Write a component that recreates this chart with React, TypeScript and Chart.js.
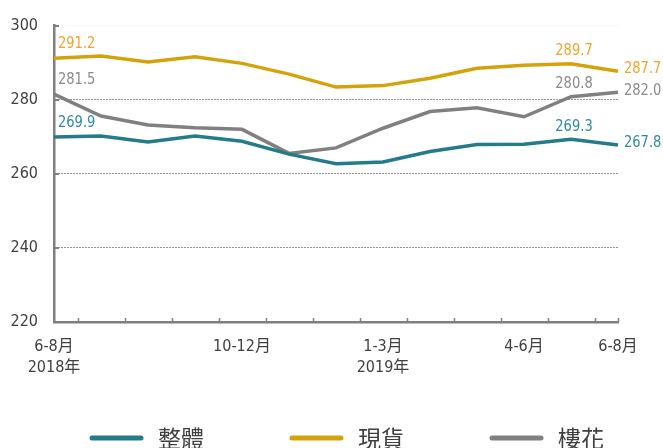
import React, { useEffect, useRef } from 'react';
import { Chart, registerables } from 'chart.js';

Chart.register(...registerables);

const categories = ['6-8月', '7-9月', '8-10月', '9-11月', '10-12月', '11-1月', '12-2月', '1-3月', '2-4月', '3-5月', '4-6月', '5-7月', '6-8月'];
const tickLabels: (string | string[])[] = [['6-8月', '2018年'], '', '', '', '10-12月', '', '', ['1-3月', '2019年'], '', '', '4-6月', '', '6-8月'];
const yTicks = [220, 240, 260, 280, 300];

const seriesNames = ['整體', '現貨', '樓花'];
const overall = [269.9, 270.2, 268.6, 270.2, 268.8, 265.3, 262.7, 263.2, 266.0, 267.9, 268.0, 269.3, 267.8];
const spot = [291.2, 291.8, 290.2, 291.6, 289.8, 286.9, 283.4, 283.8, 285.8, 288.5, 289.3, 289.7, 287.7];
const presale = [281.5, 275.6, 273.2, 272.4, 272.0, 265.5, 267.0, 272.3, 276.8, 277.8, 275.4, 280.8, 282.0];
const labelledIndices = [0, 11, 12];

const lineColors = ['#237b8c', '#d4a20c', '#808080'];
const labelColors = ['#2e8a9c', '#f2a22c', '#8a8a8a'];

const NUM_FONT = "'DejaVu Sans Condensed', 'Noto Sans CJK TC', sans-serif";
const CJK_FONT = "'Noto Sans CJK TC', 'Noto Sans', sans-serif";

const decor = {
  id: 'decor',
  afterDraw(chart: any) {
    const { ctx, chartArea } = chart;
    const x = chart.scales.x;
    const y = chart.scales.y;
    const n = categories.length;
    ctx.save();
    // x-axis tick marks (between categories) pointing up
    ctx.strokeStyle = '#7f7f7f';
    ctx.lineWidth = 1.5;
    const xs: number[] = [];
    for (let i = 0; i < n - 1; i++) xs.push((x.getPixelForValue(i) + x.getPixelForValue(i + 1)) / 2);
    xs.push(x.getPixelForValue(n - 1));
    xs.forEach((m) => {
      const px = Math.round(m) + 0.5;
      ctx.beginPath();
      ctx.moveTo(px, chartArea.bottom);
      ctx.lineTo(px, chartArea.bottom - 4);
      ctx.stroke();
    });
    // y-axis inner tick marks
    ctx.lineWidth = 2;
    y.ticks.forEach((t: any) => {
      if (t.value === 220) return;
      const py = Math.round(y.getPixelForValue(t.value));
      ctx.beginPath();
      ctx.moveTo(chartArea.left, py);
      ctx.lineTo(chartArea.left + 5, py);
      ctx.stroke();
    });
    // data labels (slightly condensed)
    const sx = 0.88;
    ctx.font = `16.5px ${NUM_FONT}`;
    chart.data.datasets.forEach((ds: any, di: number) => {
      const meta = chart.getDatasetMeta(di);
      ctx.fillStyle = labelColors[di];
      labelledIndices.forEach((idx) => {
        const pt = meta.data[idx];
        const text = Number(ds.data[idx]).toFixed(1);
        let tx = pt.x;
        let ty = pt.y;
        let align: CanvasTextAlign = 'left';
        if (idx === 0) {
          tx = pt.x + 4;
          ty = pt.y - 14;
        } else if (idx === n - 1) {
          tx = pt.x + 6;
          ty = pt.y - 2;
        } else {
          align = 'center';
          tx = pt.x + 3;
          ty = pt.y - 13;
        }
        ctx.save();
        ctx.translate(tx, ty);
        ctx.scale(sx, 1);
        ctx.textAlign = align;
        ctx.textBaseline = 'middle';
        ctx.fillText(text, 0, 0);
        ctx.restore();
      });
    });
    // legend
    const legendStart = 90;
    const spacing = 200;
    const lineLen = 53;
    const ly = 438;
    ctx.lineCap = 'round';
    ctx.lineWidth = 5;
    ctx.font = `23px ${CJK_FONT}`;
    ctx.textAlign = 'left';
    ctx.textBaseline = 'middle';
    seriesNames.forEach((name, i) => {
      const lx = legendStart + i * spacing;
      ctx.strokeStyle = lineColors[i];
      ctx.beginPath();
      ctx.moveTo(lx + 2, ly);
      ctx.lineTo(lx + lineLen - 2, ly);
      ctx.stroke();
      ctx.fillStyle = '#404040';
      ctx.fillText(name, lx + lineLen + 15, ly);
    });
    ctx.restore();
  },
};

export default function App() {
  const ref = useRef<HTMLCanvasElement | null>(null);
  useEffect(() => {
    document.body.style.margin = '0';
    const canvas = ref.current;
    if (!canvas) return;
    const data = [overall, spot, presale];
    const chart = new Chart(canvas, {
      type: 'line',
      data: {
        labels: categories,
        datasets: seriesNames.map((name, i) => ({
          label: name,
          data: data[i],
          borderColor: lineColors[i],
          backgroundColor: lineColors[i],
          borderWidth: 3.5,
          pointRadius: 0,
          pointHoverRadius: 0,
          tension: 0,
          fill: false,
        })),
      },
      options: {
        animation: false,
        responsive: true,
        maintainAspectRatio: false,
        layout: { padding: { top: 25, right: 45, bottom: 0, left: 0 } },
        plugins: {
          legend: { display: false },
          tooltip: { enabled: false },
        },
        scales: {
          x: {
            type: 'category',
            offset: false,
            grid: { display: false, drawTicks: false },
            border: { display: true, color: '#7f7f7f', width: 2.5 },
            ticks: {
              autoSkip: false,
              maxRotation: 0,
              minRotation: 0,
              padding: 14,
              color: '#404040',
              font: { size: 16, family: NUM_FONT, lineHeight: 1.32 },
              callback: (_v: any, i: number) => tickLabels[i],
            },
            afterFit: (s: any) => {
              s.height = 126;
            },
          },
          y: {
            min: 220,
            max: 300,
            afterBuildTicks: (s: any) => {
              s.ticks = yTicks.map((v) => ({ value: v }));
            },
            grid: {
              drawTicks: false,
              lineWidth: 1,
              color: (c: any) => {
                const v = c.tick && c.tick.value;
                if (v === 220) return 'rgba(0,0,0,0)';
                if (v === 300) return '#ececec';
                return '#222222';
              },
            },
            border: { display: true, color: '#7f7f7f', width: 2.5, dash: [1, 2] },
            ticks: {
              padding: 16,
              color: '#404040',
              font: { size: 16, family: NUM_FONT },
            },
            afterFit: (s: any) => {
              s.width = 54;
            },
          },
        },
      },
      plugins: [decor],
    });
    return () => chart.destroy();
  }, []);
  return (
    <div style={{ position: 'absolute', left: 0, top: 0, width: 663, height: 448 }}>
      <canvas ref={ref} />
    </div>
  );
}
